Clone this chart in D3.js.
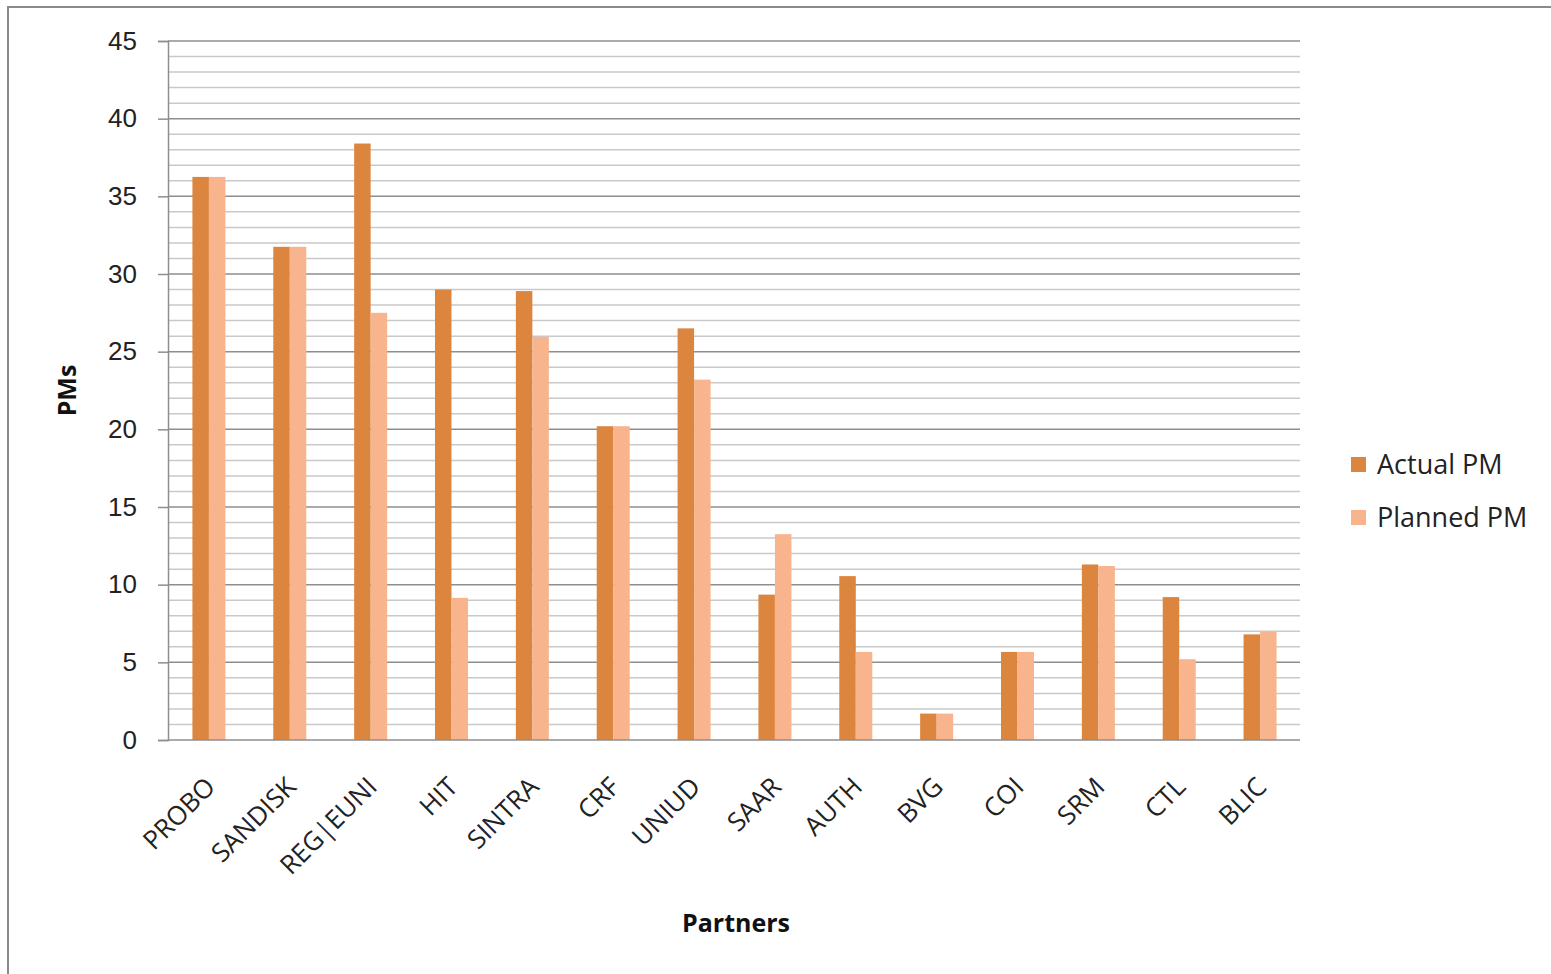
<!DOCTYPE html>
<html>
<head>
<meta charset="utf-8">
<script src="https://cdn.jsdelivr.net/npm/d3@7"></script>
<style>
  body { margin: 0; background: #fff; }
  svg { font-family: "Open Sans", "Noto Sans", sans-serif; }
</style>
</head>
<body>
<svg id="chart" width="1551" height="974"></svg>
<script>
const partners = ["PROBO", "SANDISK", "REG|EUNI", "HIT", "SINTRA", "CRF", "UNIUD", "SAAR", "AUTH", "BVG", "COI", "SRM", "CTL", "BLIC"];
const actualPM = [36.25, 31.75, 38.4, 29.0, 28.9, 20.2, 26.5, 9.36, 10.55, 1.7, 5.67, 11.3, 9.2, 6.8];
const plannedPM = [36.25, 31.75, 27.5, 9.15, 25.95, 20.2, 23.2, 13.25, 5.67, 1.7, 5.67, 11.2, 5.2, 6.97];
const seriesNames = ["Actual PM", "Planned PM"];
const colors = ["#dc853f", "#f8b48c"];

const margin = { left: 168, right: 251, top: 41, bottom: 234 };
const width = 1551, height = 974;

const svg = d3.select("#chart");

// outer frame
svg.append("rect")
  .attr("x", 8).attr("y", 7)
  .attr("width", 1600).attr("height", 1100)
  .attr("fill", "none")
  .attr("stroke", "#8a8a8a")
  .attr("stroke-width", 2);

const x = d3.scaleBand()
  .domain(partners)
  .range([margin.left, width - margin.right]);

const x1 = d3.scaleBand()
  .domain(seriesNames)
  .range([0, 33])
  .padding(0);

const y = d3.scaleLinear()
  .domain([0, 45])
  .range([height - margin.bottom, margin.top]);

// minor gridlines
svg.append("g")
  .selectAll("line")
  .data(d3.range(1, 46).filter(v => v % 5 !== 0))
  .join("line")
  .attr("x1", margin.left).attr("x2", width - margin.right)
  .attr("y1", d => y(d)).attr("y2", d => y(d))
  .attr("stroke", "#c9c9c9")
  .attr("stroke-width", 1.5);

// major gridlines
svg.append("g")
  .selectAll("line")
  .data(d3.range(5, 46, 5))
  .join("line")
  .attr("x1", margin.left).attr("x2", width - margin.right)
  .attr("y1", d => y(d)).attr("y2", d => y(d))
  .attr("stroke", "#8e8e8e")
  .attr("stroke-width", 1.5);

// y axis
const yAxis = svg.append("g")
  .attr("transform", `translate(${margin.left},0)`)
  .call(d3.axisLeft(y).tickValues(d3.range(0, 46, 5)).tickSize(10).tickPadding(21));
yAxis.select(".domain").attr("stroke", "#8e8e8e").attr("stroke-width", 1.5);
yAxis.selectAll(".tick line").attr("stroke", "#8e8e8e").attr("stroke-width", 1.5);
yAxis.selectAll(".tick text")
  .attr("fill", "#222")
  .style("font-size", "26px");

// bars
const groups = svg.append("g")
  .selectAll("g")
  .data(partners)
  .join("g")
  .attr("transform", d => `translate(${x(d) + x.bandwidth() / 2 - 16},0)`);

groups.selectAll("rect")
  .data((d, i) => [
    { key: seriesNames[0], value: actualPM[i] },
    { key: seriesNames[1], value: plannedPM[i] }
  ])
  .join("rect")
  .attr("x", d => x1(d.key))
  .attr("width", x1.bandwidth())
  .attr("y", d => y(d.value))
  .attr("height", d => y(0) - y(d.value))
  .attr("fill", (d, i) => colors[i]);

// x axis line
svg.append("line")
  .attr("x1", margin.left).attr("x2", width - margin.right)
  .attr("y1", y(0)).attr("y2", y(0))
  .attr("stroke", "#8e8e8e")
  .attr("stroke-width", 1.5);

// x labels, rotated
svg.append("g")
  .selectAll("text")
  .data(partners)
  .join("text")
  .attr("transform", d => `translate(${x(d) + x.bandwidth() / 2 + 2},${y(0) + 42}) rotate(-45)`)
  .attr("text-anchor", "end")
  .attr("dy", "0.35em")
  .style("font-size", "26px")
  .attr("fill", "#222")
  .text(d => d);

// axis titles
svg.append("text")
  .attr("transform", `translate(76,${(y(0) + y(45)) / 2}) rotate(-90)`)
  .attr("text-anchor", "middle")
  .style("font-size", "25px")
  .style("font-weight", "bold")
  .attr("fill", "#111")
  .text("PMs");

svg.append("text")
  .attr("x", 736).attr("y", 932)
  .attr("text-anchor", "middle")
  .style("font-size", "25px")
  .style("font-weight", "bold")
  .attr("fill", "#111")
  .text("Partners");

// legend
const legend = svg.append("g")
  .selectAll("g")
  .data(seriesNames)
  .join("g")
  .attr("transform", (d, i) => `translate(1351,${457 + i * 53})`);
legend.append("rect")
  .attr("width", 15).attr("height", 15)
  .attr("fill", (d, i) => colors[i]);
legend.append("text")
  .attr("x", 26).attr("y", 8)
  .attr("dy", "0.35em")
  .style("font-size", "27px")
  .attr("fill", "#222")
  .text(d => d);
</script>
</body>
</html>
